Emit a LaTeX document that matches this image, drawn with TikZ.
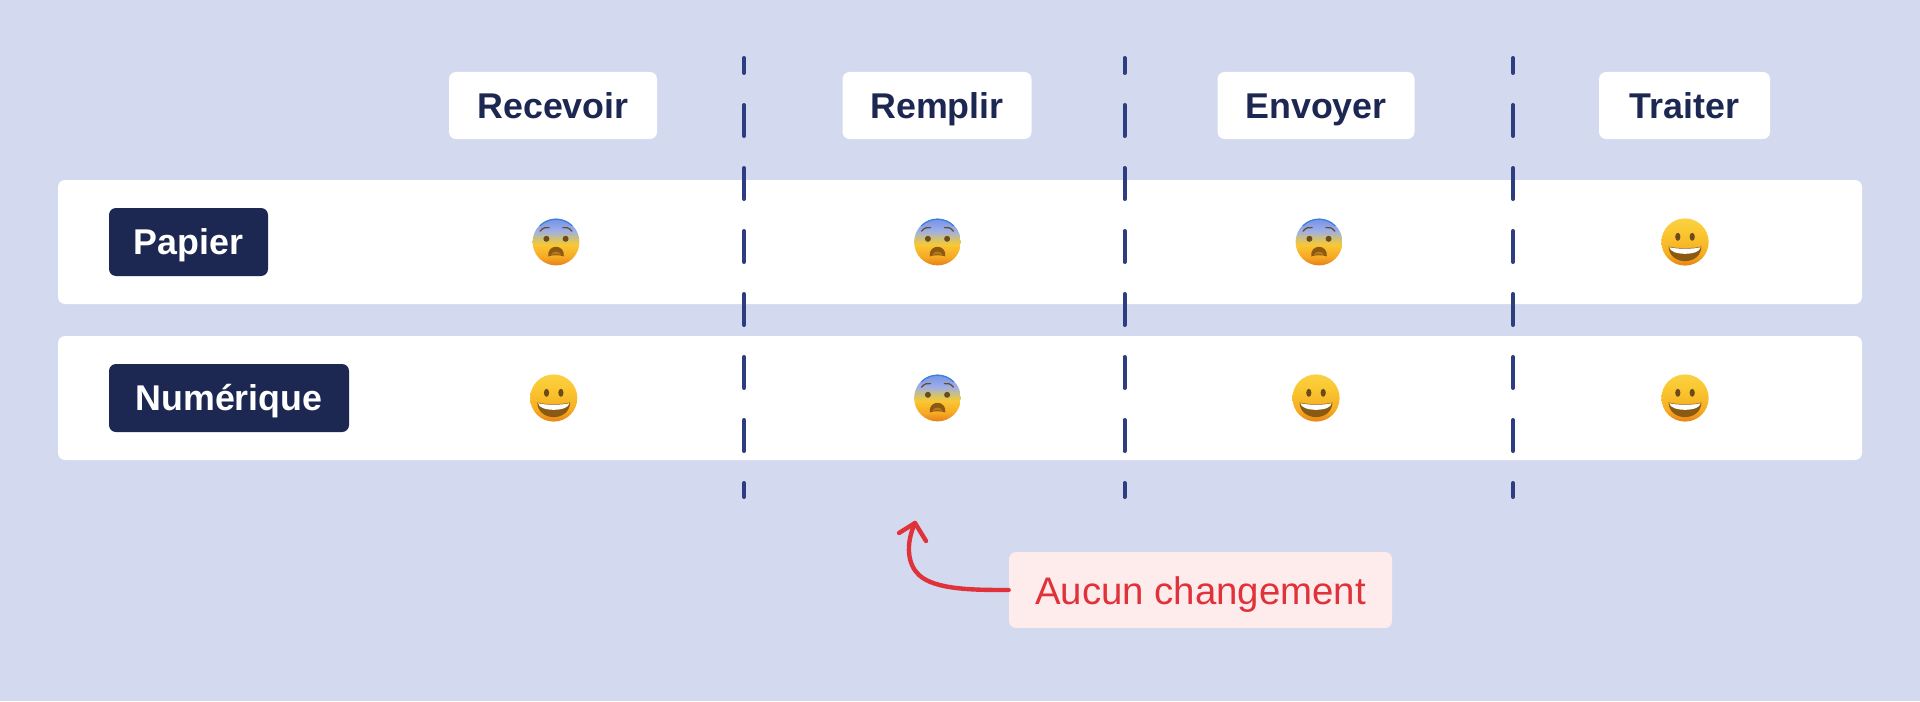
\documentclass[tikz,border=0pt]{standalone}
\usepackage{fontspec}
\setmainfont{Liberation Sans}
\usetikzlibrary{positioning,calc,arrows.meta}
\definecolor{bgblue}{HTML}{D3D9EE}
\definecolor{navy}{HTML}{1C2752}
\definecolor{dashblue}{HTML}{2E3D80}
\definecolor{redtext}{HTML}{E0323A}
\definecolor{pinkbox}{HTML}{FEECEC}
\definecolor{facebrown}{HTML}{6B4A1B}
\definecolor{mouthbrown}{HTML}{8A5A12}
\definecolor{tonguebrown}{HTML}{B9781C}
\definecolor{rimblue}{HTML}{3A7FDC}
\pgfdeclareverticalshading{fearshade}{100bp}{
  rgb(0bp)=(.90,.50,.10); rgb(25bp)=(.90,.50,.10); rgb(34bp)=(.97,.66,.14);
  rgb(47bp)=(.98,.78,.20); rgb(54bp)=(.80,.76,.48); rgb(62bp)=(.62,.68,.92);
  rgb(75bp)=(.45,.58,.90); rgb(100bp)=(.45,.58,.90)}
\pgfdeclareverticalshading{grinshade}{100bp}{
  rgb(0bp)=(.91,.52,.09); rgb(25bp)=(.91,.52,.09); rgb(38bp)=(.97,.68,.13);
  rgb(60bp)=(.98,.78,.19); rgb(75bp)=(.98,.82,.26); rgb(100bp)=(.98,.82,.26)}
\tikzset{
  px/.style={x=0.5pt,y=-0.5pt},
  rowbar/.style={fill=white,rounded corners=3.5pt,minimum height=62pt,inner sep=0pt},
  header/.style={fill=white,rounded corners=3.5pt,text=navy,font=\fontsize{17.9}{20}\selectfont\bfseries,minimum height=33.5pt,inner sep=0pt,text height=16.25pt,text depth=3.5pt},
  rowlabel/.style={fill=navy,rounded corners=3.5pt,text=white,font=\fontsize{17.9}{20}\selectfont\bfseries,minimum height=34pt,inner sep=0pt,text height=16.25pt,text depth=3.5pt},
  divider/.style={dashblue,line width=2pt,line cap=round,dash pattern=on 15.5pt off 16pt,dash phase=8pt},
  note/.style={fill=pinkbox,rounded corners=3.5pt,text=redtext,font=\fontsize{19.2}{22}\selectfont,minimum height=38pt,minimum width=191.5pt,inner sep=0pt,text height=17.5pt,text depth=3.5pt},
  pointer/.style={redtext,line width=2.2pt,line cap=round,line join=round},
  fear/.pic={
    \shade[shading=fearshade] (0,0) circle (11.7pt);
    \draw[rimblue,line width=.6pt] (135:11.4pt) arc (135:45:11.4pt);
    \draw[facebrown,line width=.6pt,line cap=round] (-8pt,5.4pt) .. controls (-6.5pt,7.2pt) and (-5pt,7.6pt) .. (-3.4pt,7.2pt);
    \draw[facebrown,line width=.6pt,line cap=round] (8pt,5.4pt) .. controls (6.5pt,7.2pt) and (5pt,7.6pt) .. (3.4pt,7.2pt);
    \fill[facebrown] (-4.8pt,1.6pt) circle (1.5pt) (4.8pt,1.6pt) circle (1.5pt);
    \fill[mouthbrown] (-3.9pt,-7.2pt) .. controls (-4.6pt,-.8pt) and (4.6pt,-.8pt) .. (3.9pt,-7.2pt) .. controls (1.5pt,-6.4pt) and (-1.5pt,-6.4pt) .. (-3.9pt,-7.2pt) -- cycle;
    \fill[tonguebrown] (-2.6pt,-6.5pt) .. controls (-1.5pt,-4.2pt) and (1.5pt,-4.2pt) .. (2.6pt,-6.5pt) .. controls (1pt,-6pt) and (-1pt,-6pt) .. (-2.6pt,-6.5pt) -- cycle;
  },
  grin/.pic={
    \shade[shading=grinshade] (0,0) circle (11.8pt);
    \fill[facebrown] (-3.6pt,2.6pt) ellipse (1.3pt and 2pt) (3.6pt,2.6pt) ellipse (1.3pt and 2pt);
    \fill[mouthbrown] (-8.2pt,-2.2pt) .. controls (-5pt,-3.4pt) and (5pt,-3.4pt) .. (8.2pt,-2.2pt) .. controls (8pt,-12pt) and (-8pt,-12pt) .. (-8.2pt,-2.2pt) -- cycle;
    \fill[white] (-7.8pt,-2.6pt) .. controls (-5pt,-3.6pt) and (5pt,-3.6pt) .. (7.8pt,-2.6pt) .. controls (7.6pt,-7pt) and (-7.6pt,-7pt) .. (-7.8pt,-2.6pt) -- cycle;
  }
}
\begin{document}
\begin{tikzpicture}[px]
\useasboundingbox[fill=bgblue] (0,0) rectangle (1920,701);
\node[rowbar,minimum width=902pt] (paper) at (960,242) {};
\node[rowbar,minimum width=902pt] (digital) at (960,398) {};
\node[header,minimum width=104pt] (receive) at (553,105.5) {Recevoir};
\node[header,minimum width=94.5pt] (fill) at (937,105.5) {Remplir};
\node[header,minimum width=98.5pt] (send) at (1316,105.5) {Envoyer};
\node[header,minimum width=85.5pt] (process) at (1684.5,105.5) {Traiter};
\node[rowlabel,minimum width=79.5pt] (paperlabel) at (188.5,242) {Papier};
\node[rowlabel,minimum width=120pt] (digitallabel) at (229,398) {Numérique};
% dividers between the steps
\foreach \xpos/\name in {744/a,1124.5/b,1513/c}{
  \coordinate (top\name) at (\xpos,58);
  \coordinate (bot\name) at (\xpos,497);
  \draw[divider] (top\name) -- (bot\name);
}
\pic at (556,242) {fear};
\pic at (937.5,242) {fear};
\pic at (1319,242) {fear};
\pic at (1685,242) {grin};
\pic at (553.7,398) {grin};
\pic at (937.5,398) {fear};
\pic at (1316,398) {grin};
\pic at (1685,398) {grin};
\node[note] (nochange) at (1200.5,590) {Aucun changement};
\coordinate (tip) at (915,523);
\draw[pointer] (nochange.west) .. controls (975,590) and (935,590) .. (919,575) .. controls (908,565) and (905,545) .. (tip);
\draw[pointer] (899,533) -- (tip) -- (926,541);
\end{tikzpicture}
\end{document}
